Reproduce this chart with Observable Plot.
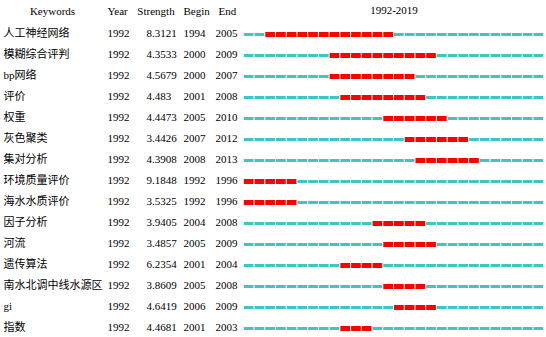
<!DOCTYPE html>
<html>
<head>
<meta charset="utf-8">
<script src="https://cdn.jsdelivr.net/npm/d3@7"></script>
<script src="https://cdn.jsdelivr.net/npm/@observablehq/plot@0.6"></script>
<style>
  html, body { margin: 0; padding: 0; background: #fff; }
  #chart svg { display: block; }
</style>
</head>
<body>
<div id="chart"></div>
<script>
const keywords = ["人工神经网络","模糊综合评判","bp网络","评价","权重","灰色聚类","集对分析","环境质量评价","海水水质评价","因子分析","河流","遗传算法","南水北调中线水源区","gi","指数"];
const years = [1992,1992,1992,1992,1992,1992,1992,1992,1992,1992,1992,1992,1992,1992,1992];
const strengths = ["8.3121","4.3533","4.5679","4.483","4.4473","3.4426","4.3908","9.1848","3.5325","3.9405","3.4857","6.2354","3.8609","4.6419","4.4681"];
const begins = [1994,2000,2000,2001,2005,2007,2008,1992,1992,2004,2005,2001,2005,2006,2001];
const ends = [2005,2009,2007,2008,2010,2012,2013,1996,1996,2008,2009,2004,2008,2009,2003];
const firstYear = 1992, lastYear = 2019;
const headers = ["Keywords","Year","Strength","Begin","End"];
const rangeLabel = "1992-2019";

const rows = keywords.map((k, i) => ({keyword: k, year: years[i], strength: strengths[i], begin: begins[i], end: ends[i]}));
const cells = [];
rows.forEach(r => {
  for (let y = firstYear; y <= lastYear; y++) {
    cells.push({keyword: r.keyword, year: y, burst: y >= r.begin && y <= r.end});
  }
});

const W = 546, H = 337, ML = 243.3, MT = 30.7;
const font = "'Liberation Serif','Times New Roman','Noto Sans CJK SC',serif";
const cyan = "#3ec5c5", red = "#ff0000";

const colText = (field, dx, anchor) => Plot.text(rows, {
  y: "keyword", text: d => String(d[field]), frameAnchor: "left", textAnchor: anchor || "start",
  dx: dx - ML, dy: -1, fontSize: 11, fill: "#000"
});

const chart = Plot.plot({
  width: W, height: H,
  marginLeft: ML, marginRight: 2.3, marginTop: MT, marginBottom: 5.3,
  style: {fontFamily: font, background: "#fff"},
  x: {domain: [firstYear, lastYear + 1], axis: null},
  y: {domain: keywords, axis: null, padding: 0},
  marks: [
    Plot.ruleY(cells.filter(d => !d.burst), {y: "keyword", x1: "year", x2: d => d.year + 1, stroke: cyan, strokeWidth: 3, insetLeft: 0.5, insetRight: 0.5}),
    Plot.ruleY(cells.filter(d => d.burst), {y: "keyword", x1: "year", x2: d => d.year + 1, stroke: red, strokeWidth: 5, insetLeft: 0.5, insetRight: 0.5}),
    colText("keyword", 3),
    colText("year", 107),
    colText("strength", 146),
    colText("begin", 183),
    colText("end", 215),
    Plot.text([headers[0]], {frameAnchor: "top-left", text: d => d, dx: 52 - ML, dy: 7 - MT, textAnchor: "middle", fontSize: 11}),
    Plot.text([headers[1]], {frameAnchor: "top-left", text: d => d, dx: 107 - ML, dy: 7 - MT, textAnchor: "start", fontSize: 11}),
    Plot.text([headers[2]], {frameAnchor: "top-left", text: d => d, dx: 155.5 - ML, dy: 7 - MT, textAnchor: "middle", fontSize: 11}),
    Plot.text([headers[3]], {frameAnchor: "top-left", text: d => d, dx: 183 - ML, dy: 7 - MT, textAnchor: "start", fontSize: 11}),
    Plot.text([headers[4]], {frameAnchor: "top-left", text: d => d, dx: 218 - ML, dy: 7 - MT, textAnchor: "start", fontSize: 11}),
    Plot.text([rangeLabel], {frameAnchor: "top", text: d => d, dy: 6 - MT, textAnchor: "middle", fontSize: 11})
  ]
});
document.getElementById("chart").appendChild(chart);
</script>
</body>
</html>
